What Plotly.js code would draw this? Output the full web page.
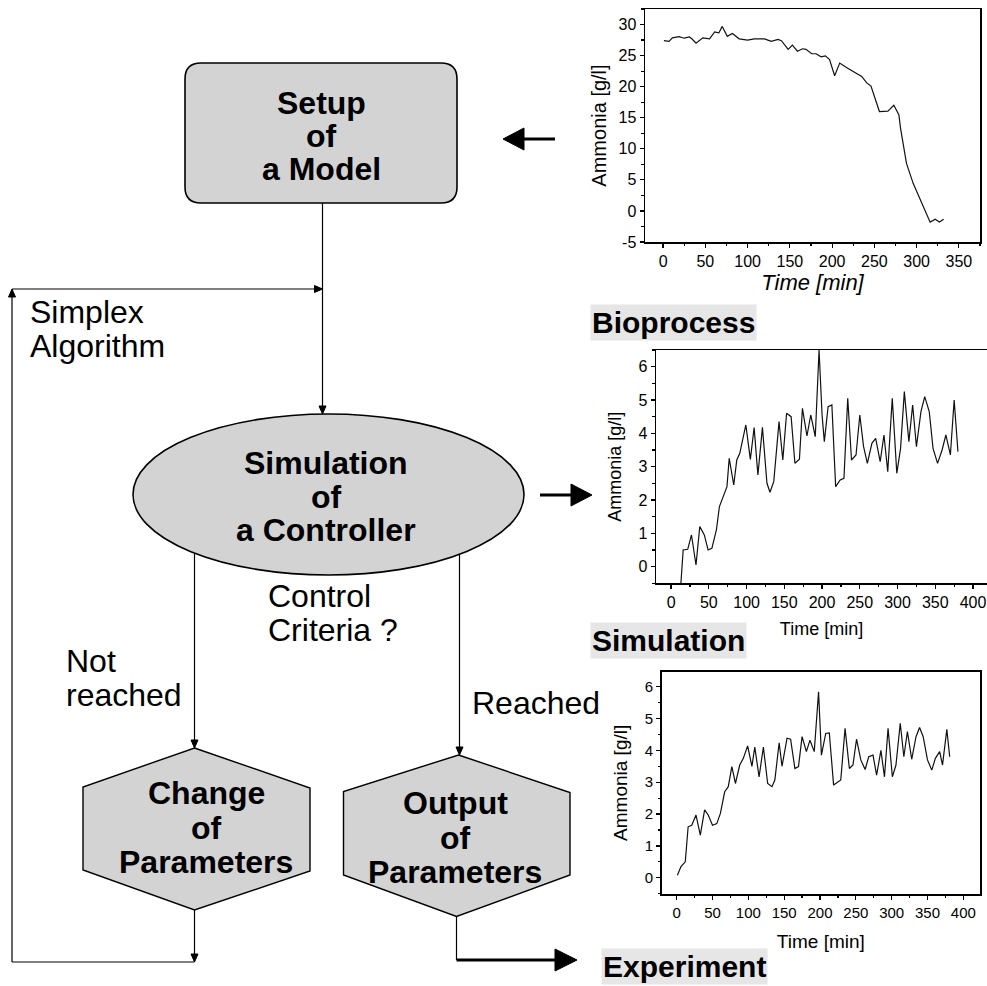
<!DOCTYPE html>
<html>
<head>
<meta charset="utf-8">
<script src="https://cdn.plot.ly/plotly-3.0.1.min.js"></script>
<style>
  html, body { margin: 0; padding: 0; background: #fff; }
  #chart { width: 987px; height: 986px; }
</style>
</head>
<body>
<div id="chart"></div>
<script>
// Ammonia concentration during the fed-batch run (top panel)
const bioprocessTime = [1, 7, 11, 19, 25, 31, 34, 39, 47, 55, 61, 66, 70, 76, 82, 90, 100, 108, 120, 128,
  136, 140, 148, 153, 159, 165, 169, 176, 181, 187, 192, 197, 203, 209, 217, 225, 235, 241, 246, 256,
  266, 273, 279, 281, 288, 296, 302, 308, 316, 322, 327, 332];
const bioprocessNH3 = [27.4, 27.3, 27.85, 28.06, 27.8, 28, 27.7, 27, 27.85, 27.7, 28.8, 28.65, 29.7, 28.1, 28.55, 27.7, 27.5, 27.7, 27.7, 27.3,
  27.6, 27.4, 26, 26.7, 25.7, 26.1, 26, 25.3, 25.3, 24.8, 24.95, 24.35, 21.75, 23.8, 23.1, 22.45, 21.65, 20.6, 20.1, 16,
  16.05, 17, 15.5, 13.3, 7.65, 4.4, 2.5, 0.9, -1.8, -1.35, -1.8, -1.35];
const bioprocessYTicks = [-5, 0, 5, 10, 15, 20, 25, 30];
const bioprocessYTickText = ['-5', '0', '5', '10', '15', '20', '25', '30'];

// Simulated controller response (middle panel)
const simulationTime = [13, 16, 22, 27, 33, 38, 44, 49, 54, 60, 64, 69, 74, 77, 83, 87, 91, 99, 105, 110,
  115, 121, 127, 131, 136, 143, 148, 153, 159, 164, 170, 174, 180, 185, 191, 196, 200, 203, 208, 213,
  218, 224, 229, 234, 239, 245, 250, 255, 260, 266, 271, 277, 282, 287, 293, 299, 304, 309, 315, 320,
  325, 331, 336, 342, 347, 353, 359, 364, 370, 375, 380];
const simulationNH3 = [-0.5, 0.5, 0.52, 0.95, 0.05, 1.2, 0.95, 0.5, 0.55, 1.1, 1.8, 2.1, 2.4, 3.25, 2.45, 3.2, 3.4, 4.25, 3.22, 4.17,
  2.75, 4.18, 2.5, 2.23, 2.55, 4.35, 3.2, 4.6, 4.5, 3.1, 3.22, 4.75, 3.92, 4.55, 3.9, 6.5, 4.55, 3.75, 4.8, 4.85,
  2.4, 2.6, 2.65, 5.05, 3.2, 3.35, 4.55, 3.6, 3.1, 3.7, 3.85, 3.15, 3.95, 2.85, 5.05, 2.8, 3.55, 5.25, 3.75, 4.85,
  3.6, 4.65, 5.1, 4.65, 3.55, 3.1, 3.5, 3.95, 3.35, 5, 3.45];

// Controlled experiment with the optimised parameters (bottom panel)
const experimentTime = [1, 6, 12, 16, 21, 27, 33, 39, 44, 50, 56, 61, 67, 72, 77, 82, 88, 93, 99, 105,
  109, 115, 121, 127, 133, 137, 143, 147, 154, 159, 165, 170, 175, 181, 186, 192, 198, 202, 208, 213,
  219, 224, 229, 235, 241, 246, 251, 257, 263, 268, 274, 279, 285, 290, 295, 301, 306, 312, 317, 322,
  328, 334, 339, 344, 350, 356, 361, 367, 371, 377, 381];
const experimentNH3 = [0.08, 0.35, 0.5, 1.6, 1.65, 1.97, 1.34, 2.13, 1.97, 1.65, 1.7, 2.02, 2.7, 2.86, 3.49, 2.96, 3.54, 3.75, 4.14, 3.5,
  4.1, 3.17, 4.1, 2.96, 2.86, 3.07, 4.24, 3.5, 4.38, 4.35, 3.43, 3.49, 4.43, 3.96, 4.32, 3.96, 5.84, 3.85, 4.53, 4.55,
  2.91, 3.0, 3.07, 4.69, 3.43, 3.54, 4.35, 3.7, 3.4, 3.8, 3.85, 3.22, 4.0, 3.17, 4.69, 3.17, 3.54, 4.85, 3.8, 4.59,
  3.72, 4.43, 4.72, 4.43, 3.7, 3.38, 3.75, 3.96, 3.54, 4.66, 3.8];

// Axis labels
const yLabel = 'Ammonia [g/l]';
const xLabel = 'Time [min]';

// Flowchart texts, one entry per line
const setupLines = ['Setup', 'of', 'a Model'];
const controllerLines = ['Simulation', 'of', 'a Controller'];
const changeLines = ['Change', 'of', 'Parameters'];
const outputLines = ['Output', 'of', 'Parameters'];
const simplexLines = ['Simplex', 'Algorithm'];
const criteriaLines = ['Control', 'Criteria ?'];
const notReachedLines = ['Not', 'reached'];
const reachedLines = ['Reached'];
const panelCaptions = ['Bioprocess', 'Simulation', 'Experiment'];

const W = 987, H = 986;
const FONT = 'Liberation Sans, Arial, Helvetica, sans-serif';
const INK = '#000';
const BOXFILL = '#d3d3d3';

function line(x, y, xa, ya) {
  return { x, y, xaxis: xa, yaxis: ya, type: 'scatter', mode: 'lines',
    line: { color: '#111', width: 1.2 }, hoverinfo: 'skip', showlegend: false };
}

const traces = [
  { x: [], y: [], xaxis: 'x4', yaxis: 'y4', type: 'scatter', hoverinfo: 'skip', showlegend: false },
  line(bioprocessTime, bioprocessNH3, 'x', 'y'),
  line(simulationTime, simulationNH3, 'x2', 'y2'),
  line(experimentTime, experimentNH3, 'x3', 'y3')
];

function axisBase(extra) {
  return Object.assign({
    showline: true, linecolor: INK, linewidth: 1.5, mirror: true,
    ticks: 'outside', ticklen: 4, tickwidth: 1.2, tickcolor: INK,
    showgrid: false, zeroline: false, automargin: false,
    tickfont: { family: FONT, size: 16, color: INK },
    tickmode: 'linear'
  }, extra);
}
function minorTicks(step) {
  return { ticks: 'outside', ticklen: 2.5, tickmode: 'linear', dtick: step, tick0: 0, tickcolor: INK, showgrid: false };
}

// pixel helpers for the page-wide drawing axis (x4 / y4)
const R = { xref: 'x4', yref: 'y4' };
function seg(x0, y0, x1, y1, w) {
  return Object.assign({ type: 'line', x0, y0, x1, y1, line: { color: INK, width: w || 1.2 } }, R);
}
function head(tx, ty, dir, len, half) {
  let p;
  if (dir === 'down') p = `M${tx},${ty} L${tx - half},${ty - len} L${tx + half},${ty - len} Z`;
  if (dir === 'up') p = `M${tx},${ty} L${tx - half},${ty + len} L${tx + half},${ty + len} Z`;
  if (dir === 'right') p = `M${tx},${ty} L${tx - len},${ty - half} L${tx - len},${ty + half} Z`;
  if (dir === 'left') p = `M${tx},${ty} L${tx + len},${ty - half} L${tx + len},${ty + half} Z`;
  return Object.assign({ type: 'path', path: p, fillcolor: INK, line: { color: INK, width: 1 } }, R);
}
function roundRect(x0, y0, x1, y1, r) {
  const p = `M${x0 + r},${y0} L${x1 - r},${y0} Q${x1},${y0} ${x1},${y0 + r} L${x1},${y1 - r} Q${x1},${y1} ${x1 - r},${y1} ` +
    `L${x0 + r},${y1} Q${x0},${y1} ${x0},${y1 - r} L${x0},${y0 + r} Q${x0},${y0} ${x0 + r},${y0} Z`;
  return Object.assign({ type: 'path', path: p, fillcolor: BOXFILL, line: { color: INK, width: 1.6 }, layer: 'below' }, R);
}
function hexagon(pts) {
  const p = 'M' + pts.map(q => q[0] + ',' + q[1]).join(' L') + ' Z';
  return Object.assign({ type: 'path', path: p, fillcolor: BOXFILL, line: { color: INK, width: 1.4 }, layer: 'below' }, R);
}
function textLines(lines, x, y0, step, size, bold, anchor) {
  return lines.map((t, i) => Object.assign({
    text: bold ? '<b>' + t + '</b>' : t, x, y: y0 + i * step, showarrow: false,
    xanchor: anchor || 'center', yanchor: 'middle',
    font: { family: FONT, size, color: INK }
  }, R));
}
function caption(t, x, y) {
  return Object.assign({ text: '<b>' + t + '</b>', x, y, xanchor: 'left', yanchor: 'middle',
    showarrow: false, bgcolor: '#e6e6e6', borderpad: 1, font: { family: FONT, size: 30, color: INK } }, R);
}

// ellipse geometry
const ex0 = 133, ex1 = 524, ey0 = 414, ey1 = 575;
const ecx = (ex0 + ex1) / 2, ecy = (ey0 + ey1) / 2, erx = (ex1 - ex0) / 2, ery = (ey1 - ey0) / 2;
function ellipseBottom(x) { return ecy + ery * Math.sqrt(1 - Math.pow((x - ecx) / erx, 2)); }

const leftX = 194.5, rightX = 459.5;

const shapes = [
  roundRect(185, 63, 457, 203, 16),
  Object.assign({ type: 'circle', x0: ex0, x1: ex1, y0: ey0, y1: ey1, fillcolor: BOXFILL,
    line: { color: INK, width: 1.6 }, layer: 'below' }, R),
  hexagon([[194.5, 748], [310, 788], [310, 871], [194.5, 910], [83, 870], [83, 787]]),
  hexagon([[458.5, 755], [570, 792.5], [570, 875], [456.5, 916.5], [343.5, 875], [343.5, 791.5]]),

  // setup -> controller
  seg(322.5, 203, 322.5, 407), head(322.5, 414, 'down', 8, 3.5),
  // loop back from the simplex step
  seg(12, 289, 316, 289), head(322.5, 289, 'right', 8, 3.5),
  seg(12, 296, 12, 962), head(12, 289, 'up', 8, 3.5),
  seg(12, 962, 194.5, 962),
  // branches below the controller
  seg(leftX, ellipseBottom(leftX), leftX, 741), head(leftX, 748, 'down', 8, 3.5),
  seg(rightX, ellipseBottom(rightX), rightX, 748), head(rightX, 755, 'down', 8, 3.5),
  seg(194.5, 910, 194.5, 955), head(194.5, 962, 'down', 8, 3.5),
  seg(456.5, 916.5, 456.5, 960),
  seg(456.5, 960, 556, 960, 3), head(577, 960, 'right', 22, 11),
  // thick arrows linking to the panels
  seg(555, 139, 522, 139, 3), head(503, 139, 'left', 21, 11),
  seg(540, 495, 572, 495, 3), head(592, 495, 'right', 21, 11)
];

const annotations = [].concat(
  textLines(setupLines, 321, 103, 33, 32, true),
  textLines(controllerLines, 326, 463, 33.5, 32, true),
  textLines(changeLines, 206, 793, 34.5, 32, true),
  textLines(outputLines, 455, 803, 34.5, 32, true),
  textLines(simplexLines, 28, 312, 34, 32, false, 'left'),
  textLines(criteriaLines, 266, 596, 34, 32, false, 'left'),
  textLines(notReachedLines, 64, 661, 34, 32, false, 'left'),
  textLines(reachedLines, 470, 703, 34, 32, false, 'left'),
  [caption(panelCaptions[0], 590, 322), caption(panelCaptions[1], 590, 640), caption(panelCaptions[2], 601, 966)]
);

const layout = {
  width: W, height: H,
  margin: { l: 0, r: 0, t: 0, b: 0 },
  paper_bgcolor: '#fff', plot_bgcolor: 'rgba(0,0,0,0)',
  showlegend: false,
  font: { family: FONT, color: INK },

  xaxis: axisBase({ domain: [645 / W, 980 / W], range: [-21.4, 375], tick0: 0, dtick: 50, anchor: 'y',
    minor: minorTicks(25),
    title: { text: '<i>' + xLabel + '</i>', font: { family: FONT, size: 22, color: INK }, standoff: 5 } }),
  yaxis: axisBase({ domain: [1 - 242 / H, 1 - 9 / H], range: [-5, 32.5], anchor: 'x',
    tickmode: 'array', tickvals: bioprocessYTicks, ticktext: bioprocessYTickText,
    minor: minorTicks(2.5),
    title: { text: yLabel, font: { family: FONT, size: 20, color: INK }, standoff: 6 } }),

  xaxis2: axisBase({ domain: [656 / W, 1], range: [-20, 418.5], tick0: 0, dtick: 50, anchor: 'y2',
    minor: minorTicks(25),
    title: { text: xLabel, font: { family: FONT, size: 18, color: INK }, standoff: 12 } }),
  yaxis2: axisBase({ domain: [1 - 583.3 / H, 1 - 350 / H], range: [-0.5, 6.5], tick0: 0, dtick: 1, anchor: 'x2',
    minor: minorTicks(0.5),
    title: { text: yLabel, font: { family: FONT, size: 18, color: INK }, standoff: 12 } }),

  xaxis3: axisBase({ domain: [661.7 / W, 980 / W], range: [-20.9, 423.3], tick0: 0, dtick: 50, anchor: 'y3',
    tickfont: { family: FONT, size: 15, color: INK },
    minor: minorTicks(25),
    title: { text: xLabel, font: { family: FONT, size: 19, color: INK }, standoff: 15 } }),
  yaxis3: axisBase({ domain: [1 - 894 / H, 1 - 671.7 / H], range: [-0.51, 6.47], tick0: 0, dtick: 1, anchor: 'x3',
    tickfont: { family: FONT, size: 15, color: INK },
    minor: minorTicks(0.5),
    title: { text: yLabel, font: { family: FONT, size: 19, color: INK }, standoff: 12 } }),

  xaxis4: { domain: [0, 1], range: [0, W], visible: false, fixedrange: true, anchor: 'y4' },
  yaxis4: { domain: [0, 1], range: [H, 0], visible: false, fixedrange: true, anchor: 'x4' },

  shapes, annotations
};

Plotly.newPlot('chart', traces, layout, { staticPlot: true, displayModeBar: false });
</script>
</body>
</html>
